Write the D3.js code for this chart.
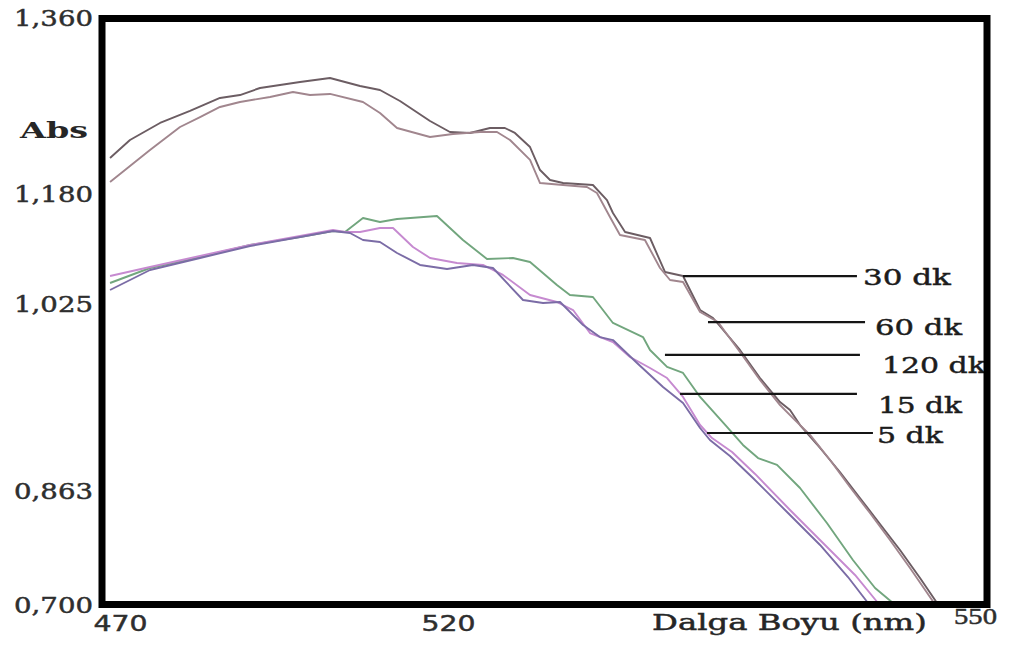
<!DOCTYPE html>
<html>
<head>
<meta charset="utf-8">
<script src="https://cdn.jsdelivr.net/npm/d3@7"></script>
<style>
  html, body { margin: 0; padding: 0; background: #fff; }
  svg { display: block; }
  text { stroke-width: 0.45; paint-order: stroke; }
</style>
</head>
<body>
<svg id="chart" width="1011" height="653"></svg>
<script>
// Absorbance spectra of the solution recorded after 5, 15, 30, 60 and 120 minutes (dk)

const wl5   = [468.48, 474.57, 482.20, 489.82, 497.44, 502.47, 505.06, 507.04, 509.63, 512.23, 515.73, 519.85, 521.42, 522.56, 524.27, 525.41, 526.38, 527.69, 528.65, 529.39, 530.76, 532.24, 533.38, 534.35, 534.91, 536.05, 537.36, 539.30, 541.18, 542.77, 543.91];
const abs5  = [1.0433, 1.0715, 1.0884, 1.1053, 1.1180, 1.1265, 1.1236, 1.1138, 1.1110, 1.0955, 1.0786, 1.0729, 1.0786, 1.0743, 1.0292, 1.0250, 1.0264, 1.0059, 0.9955, 0.9929, 0.9730, 0.9522, 0.9384, 0.9167, 0.9063, 0.8925, 0.8734, 0.8315, 0.7844, 0.7386, 0.7014];

const wl15  = [468.48, 474.57, 482.20, 489.82, 497.44, 502.47, 504.30, 506.59, 509.63, 511.62, 514.66, 517.26, 520.51, 521.99, 523.13, 524.67, 526.20, 527.12, 528.08, 529.39, 530.36, 531.50, 532.47, 533.38, 534.35, 535.03, 536.17, 537.48, 539.47, 541.29, 543.17, 544.48];
const abs15 = [1.0630, 1.0757, 1.0912, 1.1067, 1.1194, 1.1279, 1.1250, 1.1250, 1.1307, 1.1307, 1.1039, 1.0884, 1.0814, 1.0786, 1.0645, 1.0363, 1.0264, 1.0189, 0.9990, 0.9912, 0.9782, 0.9687, 0.9600, 0.9436, 0.9193, 0.9080, 0.8959, 0.8769, 0.8344, 0.7887, 0.7415, 0.7014];

const wl30  = [468.48, 471.52, 476.10, 480.67, 485.24, 488.29, 491.34, 497.44, 502.01, 506.59, 509.63, 512.68, 517.26, 520.11, 521.25, 522.39, 523.24, 523.81, 524.67, 525.24, 525.81, 526.55, 528.25, 529.05, 529.39, 530.08, 531.50, 532.35, 533.38, 534.35, 535.09, 536.62, 537.76, 538.90, 539.47, 540.04, 541.18, 542.31, 543.45, 544.59, 545.73, 546.87, 547.84];
const abs30 = [1.2158, 1.2342, 1.2516, 1.2639, 1.2772, 1.2802, 1.2874, 1.2935, 1.2976, 1.2894, 1.2853, 1.2741, 1.2536, 1.2424, 1.2414, 1.2465, 1.2465, 1.2414, 1.2270, 1.2035, 1.1933, 1.1902, 1.1882, 1.1701, 1.1518, 1.1250, 1.1166, 1.0687, 1.0630, 1.0189, 1.0120, 0.9843, 0.9600, 0.9392, 0.9323, 0.9193, 0.8994, 0.8786, 0.8516, 0.8144, 0.7772, 0.7372, 0.7014];

const wl60  = [468.48, 474.57, 479.15, 482.20, 485.24, 488.29, 492.87, 496.37, 498.96, 502.01, 507.04, 509.63, 512.23, 517.26, 520.28, 521.82, 522.79, 523.53, 524.67, 525.24, 526.55, 527.91, 528.48, 529.22, 529.79, 531.21, 532.07, 532.64, 533.38, 534.35, 535.37, 536.62, 537.76, 538.90, 539.75, 540.61, 541.75, 542.88, 544.02, 545.16, 546.30, 547.67];
const abs60 = [1.1913, 1.2240, 1.2475, 1.2577, 1.2680, 1.2731, 1.2782, 1.2833, 1.2802, 1.2813, 1.2731, 1.2618, 1.2465, 1.2373, 1.2403, 1.2424, 1.2424, 1.2342, 1.2138, 1.1902, 1.1882, 1.1861, 1.1800, 1.1462, 1.1208, 1.1138, 1.0743, 1.0574, 1.0546, 1.0172, 1.0085, 0.9826, 0.9583, 0.9366, 0.9236, 0.9107, 0.8890, 0.8656, 0.8301, 0.7915, 0.7515, 0.7014];

const wl120  = [468.48, 474.57, 482.20, 489.82, 497.44, 502.47, 504.30, 507.04, 509.63, 512.23, 518.32, 520.85, 522.22, 523.70, 524.67, 526.20, 526.94, 528.25, 529.39, 531.10, 531.50, 532.47, 533.38, 534.35, 535.88, 536.79, 537.65, 538.73, 540.04, 541.57, 543.05, 544.31, 545.33];
const abs120 = [1.0532, 1.0743, 1.0898, 1.1067, 1.1180, 1.1265, 1.1250, 1.1448, 1.1391, 1.1434, 1.1476, 1.1138, 1.0870, 1.0884, 1.0828, 1.0504, 1.0363, 1.0335, 1.0077, 0.9955, 0.9843, 0.9696, 0.9644, 0.9436, 0.9176, 0.9020, 0.8907, 0.8847, 0.8647, 0.8158, 0.7629, 0.7229, 0.7014];

// Axis ticks as printed on the spectrometer plot
const xTicks = [470, 520, 550];
const yTicks = [0.700, 0.863, 1.025, 1.180, 1.360];
const yTickLabels = ["0,700", "0,863", "1,025", "1,180", "1,360"];

// Callout labels: series name, absorbance of the leader line and its wavelength span
const calloutNames = ["30 dk", "60 dk", "120 dk", "15 dk", "5 dk"];
const calloutAbs   = [1.0630, 1.0085, 0.9800, 0.9462, 0.9124];
const calloutFrom  = [533.38, 534.80, 532.35, 533.21, 534.74];
const calloutTo    = [543.28, 543.74, 543.45, 543.28, 544.19];

const series = [
  { name: "30 dk",  wl: wl30,  abs: abs30,  color: "#6c5d63" },
  { name: "60 dk",  wl: wl60,  abs: abs60,  color: "#a1868e" },
  { name: "120 dk", wl: wl120, abs: abs120, color: "#72a67e" },
  { name: "15 dk",  wl: wl15,  abs: abs15,  color: "#c68ad0" },
  { name: "5 dk",   wl: wl5,   abs: abs5,   color: "#7b6ca6" }
];

const svg = d3.select("#chart");
const frame = { left: 102, top: 18.5, right: 987, bottom: 604.5 };

// The printed tick marks are not evenly spaced, so both scales are piecewise linear
const x = d3.scaleLinear().domain(xTicks).range([120, 448, 975]);
const y = d3.scaleLinear().domain(yTicks).range([604, 490, 303, 193, 17]);

// Stretch a text element horizontally to a given width, keeping its anchor point
function stretch(node, target, tx, ty) {
  const w = node.getComputedTextLength();
  const s = w > 0 ? target / w : 1;
  d3.select(node).attr("x", 0).attr("y", 0).attr("dy", null)
    .attr("transform", `translate(${tx},${ty}) scale(${s},1)`);
}

svg.append("defs").append("clipPath").attr("id", "plotClip")
  .append("rect")
  .attr("x", frame.left).attr("y", frame.top)
  .attr("width", frame.right - frame.left).attr("height", frame.bottom - frame.top);

// Spectra
const line = d3.line().x(d => x(d[0])).y(d => y(d[1]));
svg.append("g").attr("clip-path", "url(#plotClip)")
  .selectAll("path")
  .data(series)
  .join("path")
  .attr("d", s => line(d3.zip(s.wl, s.abs)))
  .attr("fill", "none")
  .attr("stroke", s => s.color)
  .attr("stroke-width", 1.9)
  .attr("stroke-linejoin", "round");

// Callout leader lines and labels
const textDx = [6, 10, 22, 21, 4];
const textDy = [9, 13, 18, 19, 10];
const textW  = [88, 87, 104, 84, 66];
const callouts = svg.append("g");
calloutNames.forEach((name, i) => {
  callouts.append("line")
    .attr("x1", x(calloutFrom[i])).attr("x2", x(calloutTo[i]))
    .attr("y1", y(calloutAbs[i])).attr("y2", y(calloutAbs[i]))
    .attr("stroke", "#151515").attr("stroke-width", 2.2);
  const t = callouts.append("text")
    .attr("font-family", "'DejaVu Serif', serif")
    .attr("font-size", 23)
    .attr("fill", "#1c1c1c")
    .attr("stroke", "#1c1c1c")
    .text(name);
  stretch(t.node(), textW[i], x(calloutTo[i]) + textDx[i], y(calloutAbs[i]) + textDy[i]);
});

// Y axis tick labels
const yAxis = svg.append("g").attr("transform", `translate(${frame.left},0)`)
  .call(d3.axisLeft(y).tickValues(yTicks).tickFormat((d, i) => yTickLabels[i]).tickSize(0).tickPadding(9));
yAxis.select(".domain").remove();
yAxis.selectAll("text")
  .attr("font-family", "'DejaVu Serif', serif")
  .attr("font-size", 22)
  .attr("fill", "#2e2e2e")
  .attr("stroke", "#2e2e2e")
  .each(function () { stretch(this, 79, -9, 8); });

// X axis tick labels
const xAxis = svg.append("g").attr("transform", `translate(0,${frame.bottom - 0.5})`)
  .call(d3.axisBottom(x).tickValues(xTicks).tickFormat(d3.format("d")).tickSize(0));
xAxis.select(".domain").remove();
xAxis.selectAll("text")
  .attr("font-family", d => d === 550 ? "'Liberation Serif', serif" : "'DejaVu Sans', sans-serif")
  .attr("font-size", d => d === 550 ? 23 : 21)
  .attr("fill", "#2e2e2e")
  .attr("stroke", "#2e2e2e")
  .each(function (d) { stretch(this, d === 550 ? 43 : 54, 0, d === 550 ? 20 : 27); });

// Axis titles
const absTitle = svg.append("text")
  .attr("font-family", "'DejaVu Serif', serif")
  .attr("font-size", 22)
  .attr("font-weight", "bold")
  .attr("fill", "#262626")
  .text("Abs");
stretch(absTitle.node(), 68, 20, 138);

const xTitle = svg.append("text")
  .attr("font-family", "'DejaVu Serif', serif")
  .attr("font-size", 23)
  .attr("fill", "#262626")
  .attr("stroke", "#262626")
  .text("Dalga Boyu (nm)");
stretch(xTitle.node(), 275, 652, 630);

// Plot frame
svg.append("rect")
  .attr("x", frame.left).attr("y", frame.top)
  .attr("width", frame.right - frame.left).attr("height", frame.bottom - frame.top)
  .attr("fill", "none")
  .attr("stroke", "#000")
  .attr("stroke-width", 7);
</script>
</body>
</html>
